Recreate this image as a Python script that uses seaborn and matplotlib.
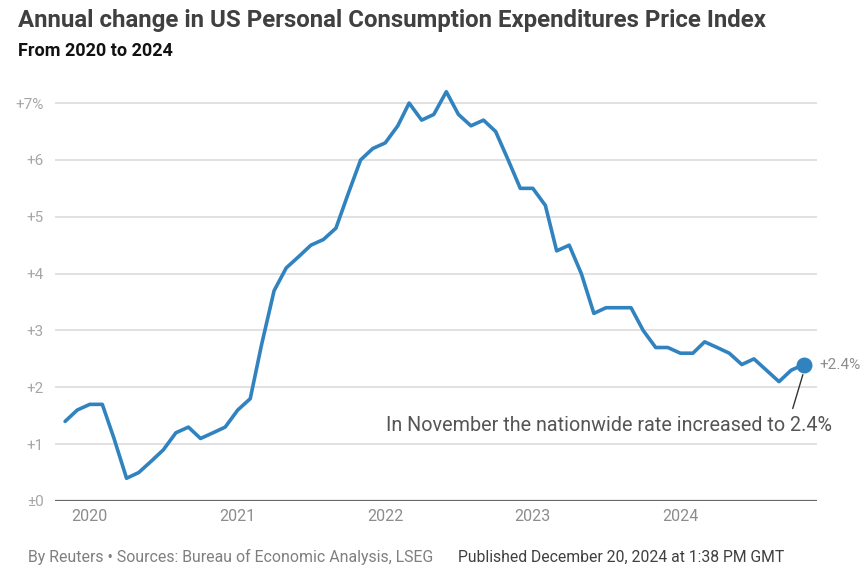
import numpy as np
import pandas as pd
import matplotlib
matplotlib.use("Agg")
import matplotlib.pyplot as plt
import seaborn as sns

# Monthly PCE price index, year-over-year change (%), Nov 2019 - Nov 2024
start_month = '2019-11-01'
pce_change = [1.4, 1.6,
              1.7, 1.7, 1.1, 0.4, 0.5, 0.7, 0.9, 1.2, 1.3, 1.1, 1.2, 1.3,
              1.6, 1.8, 2.75, 3.7, 4.1, 4.3, 4.5, 4.6, 4.8, 5.4, 6.0, 6.2,
              6.3, 6.6, 7.0, 6.7, 6.8, 7.2, 6.8, 6.6, 6.7, 6.5, 6.0, 5.5,
              5.5, 5.2, 4.4, 4.5, 4.0, 3.3, 3.4, 3.4, 3.4, 3.0, 2.7, 2.7,
              2.6, 2.6, 2.8, 2.7, 2.6, 2.4, 2.5, 2.3, 2.1, 2.3, 2.4]
year_ticks = ['2020', '2021', '2022', '2023', '2024']
y_ticks = [0, 1, 2, 3, 4, 5, 6, 7]
y_labels = ['±0', '+1', '+2', '+3', '+4', '+5', '+6', '+7%']

df = pd.DataFrame({
    'month': pd.date_range(start_month, periods=len(pce_change), freq='MS'),
    'change': pce_change,
})
last = df.iloc[-1]

sns.set_theme(style='white')
plt.rcParams['font.family'] = ['Roboto', 'DejaVu Sans']

line_color = '#3183c0'
fig = plt.figure(figsize=(8.65, 5.8), dpi=100)
ax = fig.add_axes([55 / 865, 1 - 501 / 580, (817 - 55) / 865, (501 - 90) / 580])

sns.lineplot(data=df, x='month', y='change', ax=ax, color=line_color,
             linewidth=2.6, zorder=3)
ax.scatter([last['month']], [last['change']], s=110, color=line_color, zorder=4)

ax.set_xlim(pd.Timestamp('2019-10-07'), pd.Timestamp('2024-12-04'))
ax.set_ylim(0, 7.23)

for v in y_ticks[1:]:
    ax.axhline(v, color='#d9d9d9', linewidth=1.1, zorder=1)
ax.axhline(0, color='#666666', linewidth=1.6, zorder=2)

ax.set_yticks(y_ticks)
ax.set_yticklabels(y_labels, color='#a6a6a6', fontsize=11)
ax.set_xticks([pd.Timestamp(f'{y}-01-01') for y in year_ticks])
ax.set_xticklabels(year_ticks, color='#8c8c8c', fontsize=11.5)
ax.tick_params(axis='both', length=0, pad=6)
ax.tick_params(axis='y', pad=8)
ax.set_xlabel('')
ax.set_ylabel('')
sns.despine(ax=ax, left=True, bottom=True, top=True, right=True)

# end label and annotation
ax.annotate('+2.4%', xy=(last['month'], last['change']), xytext=(11, 0),
            textcoords='offset points', va='center', ha='left',
            color='#8c8c8c', fontsize=11)
ax.annotate('', xy=(last['month'], last['change'] - 0.13),
            xytext=(pd.Timestamp('2024-10-03'), 1.58),
            arrowprops=dict(arrowstyle='-', color='#333333', linewidth=1))
ax.text(pd.Timestamp('2025-01-10'), 1.32,
        'In November the nationwide rate increased to 2.4%',
        ha='right', va='center', color='#555555', fontsize=14.2, clip_on=False)

fig.text(18 / 865, 1 - 21 / 580,
         'Annual change in US Personal Consumption Expenditures Price Index',
         fontsize=17.3, fontweight='bold', color='#404040', va='center', ha='left')
fig.text(18 / 865, 1 - 51 / 580, 'From 2020 to 2024', fontsize=13,
         fontweight='bold', color='#111111', va='center', ha='left')
fig.text(28 / 865, 1 - 557 / 580,
         'By Reuters • Sources: Bureau of Economic Analysis, LSEG',
         fontsize=11.4, color='#7f7f7f', va='center', ha='left')
fig.text(458 / 865, 1 - 557 / 580,
         'Published December 20, 2024 at 1:38 PM GMT',
         fontsize=11.3, color='#404040', va='center', ha='left')

fig.savefig('out.png', dpi=100)
